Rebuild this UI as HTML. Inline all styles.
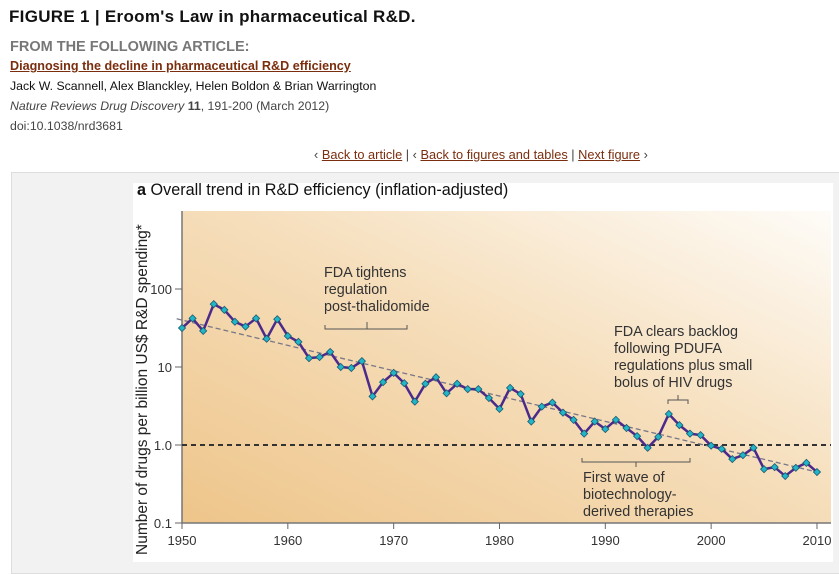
<!DOCTYPE html>
<html><head><meta charset="utf-8">
<style>
body{margin:0;width:839px;height:562px;overflow:hidden;background:#fff;font-family:"Liberation Sans",sans-serif;position:relative}
.t{position:absolute;white-space:nowrap}
a{color:#7a2e0e}
</style></head><body>
<div class="t" style="left:9px;top:7px;font-size:17px;font-weight:bold;color:#111;letter-spacing:0.3px">FIGURE 1 | Eroom's Law in pharmaceutical R&amp;D.</div>
<div class="t" style="left:10px;top:39px;font-size:14.5px;font-weight:bold;color:#777">FROM THE FOLLOWING ARTICLE:</div>
<div class="t" style="left:10px;top:59px;font-size:12.6px;font-weight:bold"><a href="#" style="color:#7a2e0e">Diagnosing the decline in pharmaceutical R&amp;D efficiency</a></div>
<div class="t" style="left:10px;top:79px;font-size:12.3px;color:#111">Jack W. Scannell, Alex Blanckley, Helen Boldon &amp; Brian Warrington</div>
<div class="t" style="left:10px;top:99px;font-size:12.3px;color:#444"><i>Nature Reviews Drug Discovery</i> <b>11</b>, 191-200 (March 2012)</div>
<div class="t" style="left:10px;top:119px;font-size:12.3px;color:#444">doi:10.1038/nrd3681</div>
<div class="t" style="left:314px;top:147px;font-size:12.8px;color:#444">‹ <a href="#">Back to article</a> | ‹ <a href="#">Back to figures and tables</a> | <a href="#">Next figure</a> ›</div>
<div style="position:absolute;left:11px;top:172px;width:840px;height:400px;background:#f2f2f2;border:1px solid #ddd"></div>
<svg style="position:absolute;left:0;top:0" width="839" height="562">
<defs>
<linearGradient id="g" x1="0" y1="1" x2="1" y2="0">
<stop offset="0" stop-color="#eec58a"/><stop offset="0.55" stop-color="#f6dfbd"/><stop offset="1" stop-color="#fefcf8"/>
</linearGradient>
</defs>
<rect x="133" y="183" width="700" height="379" fill="#fff"/>
<rect x="182" y="211" width="649" height="312" fill="url(#g)"/>
<text x="137" y="195" font-size="16.2" fill="#111" font-family="Liberation Sans,sans-serif"><tspan font-weight="bold">a</tspan>  Overall trend in R&amp;D efficiency (inflation-adjusted)</text>
<text transform="translate(147,555) rotate(-90)" font-size="15.5" fill="#222" font-family="Liberation Sans,sans-serif">Number of drugs per billion US$ R&amp;D spending*</text>
<g id="axes"></g>
<g id="marks"></g>
<g font-size="14.4" fill="#333" font-family="Liberation Sans,sans-serif">
<text x="324" y="277">FDA tightens</text><text x="324" y="294">regulation</text><text x="324" y="311">post-thalidomide</text>
<path d="M325,325V329H407V325M367,329V322" fill="none" stroke="#555"/>
<text x="614" y="336">FDA clears backlog</text><text x="614" y="353">following PDUFA</text><text x="614" y="370">regulations plus small</text><text x="614" y="387">bolus of HIV drugs</text>
<path d="M668,404V400H688V404M678,400V395" fill="none" stroke="#555"/>
<path d="M582,458V462H690V458M636,462V467" fill="none" stroke="#555"/>
<text x="583" y="482">First wave of</text><text x="583" y="499">biotechnology-</text><text x="583" y="516">derived therapies</text>
</g>
</svg>
<script>
const years=[];for(let y=1950;y<=2010;y++)years.push(y);
const values=[31.6,42,29,64,54,38,33,42,23,41,25,21,13,13.4,15.6,10,9.7,11.9,4.2,6.4,8.4,6.2,3.6,6.1,7.4,4.6,6.1,5.2,5.2,4.0,2.9,5.4,4.5,2.0,3.1,3.5,2.6,2.1,1.4,2.0,1.6,2.1,1.65,1.3,0.92,1.27,2.5,1.8,1.4,1.34,0.98,0.89,0.66,0.74,0.92,0.49,0.52,0.40,0.51,0.59,0.45];
const yTicks=[0.1,1,10,100];
const yTickLabels=["0.1","1.0","10","100"];
const xTicks=[1950,1960,1970,1980,1990,2000,2010];
const trendStart=[1949.5,41.5];
const trendEnd=[2010,0.45];
const NS="http://www.w3.org/2000/svg";
const xs=y=>182+(y-1950)*10.583;
const ys=v=>445-78*Math.log10(v);
function mk(tag,at,par){const e=document.createElementNS(NS,tag);for(const k in at)e.setAttribute(k,at[k]);par.appendChild(e);return e;}
const ax=document.getElementById('axes'),mg=document.getElementById('marks');
const yl=mk('line',{x1:182,y1:211,x2:182,y2:523,stroke:'#777','stroke-width':1.5},ax);


const xl=mk('line',{x1:182,y1:523,x2:831,y2:523,stroke:'#777','stroke-width':1.5},ax);


yTicks.forEach((t,i)=>{const y=ys(t);
 mk('line',{x1:175,y1:y,x2:182,y2:y,stroke:'#666'},ax);
 const tx=mk('text',{x:172,y:y+5,'text-anchor':'end','font-size':13,fill:'#333','font-family':'Liberation Sans,sans-serif'},ax);tx.textContent=yTickLabels[i];
 
 
});
xTicks.forEach(t=>{const x=xs(t);
 mk('line',{x1:x,y1:523,x2:x,y2:529,stroke:'#666'},ax);
 const tx=mk('text',{x:x,y:545,'text-anchor':'middle','font-size':13,fill:'#333','font-family':'Liberation Sans,sans-serif'},ax);tx.textContent=t;
 
 
});
const ref=mk('line',{x1:182,y1:ys(1),x2:831,y2:ys(1),stroke:'#333','stroke-width':2,'stroke-dasharray':'5,4'},mg);


const tr=mk('line',{x1:xs(trendStart[0]),y1:ys(trendStart[1]),x2:xs(trendEnd[0]),y2:ys(trendEnd[1]),stroke:'#778','stroke-width':1.3,'stroke-dasharray':'5,3'},mg);


const pl=mk('polyline',{points:years.map((y,i)=>xs(y)+','+ys(values[i])).join(' '),fill:'none',stroke:'#4b2a8c','stroke-width':2.5,'stroke-linejoin':'round'},mg);


years.forEach((y,i)=>{const c=mk('rect',{x:xs(y)-2.5,y:ys(values[i])-2.5,width:5,height:5,fill:'#22b5c8',stroke:'#1a5a70','stroke-width':0.8,transform:`rotate(45 ${xs(y)} ${ys(values[i])})`},mg);
 
 
});
</script>
</body></html>
